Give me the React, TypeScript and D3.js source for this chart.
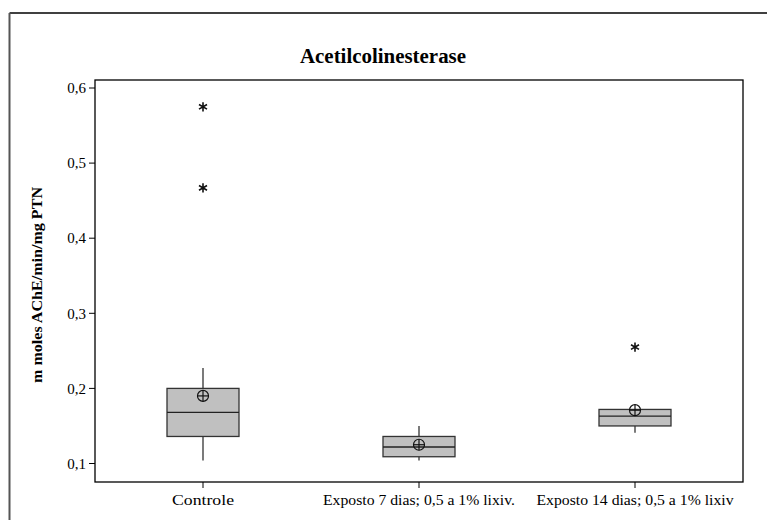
import React from "react";
import * as d3 from "d3";

const categories = ["Controle", "Exposto 7 dias; 0,5 a 1% lixiv.", "Exposto 14 dias; 0,5 a 1% lixiv"];
const q1 = [0.136, 0.109, 0.150];
const medians = [0.168, 0.122, 0.163];
const q3 = [0.200, 0.136, 0.172];
const whiskerLow = [0.104, 0.104, 0.141];
const whiskerHigh = [0.227, 0.150, 0.172];
const means = [0.190, 0.125, 0.171];
const outliers: number[][] = [[0.575, 0.467], [], [0.255]];
const yTicks = [0.1, 0.2, 0.3, 0.4, 0.5, 0.6];

const W = 767, H = 520;
const plotL = 95, plotR = 743, plotT = 80, plotB = 482;
const labelWidths = [62, 192, 197];

export default function App() {
  const x = d3.scaleBand<string>().domain(categories).range([plotL, plotR]).padding(0);
  const y = d3.scaleLinear().domain([0.1, 0.6]).range([463.5, 88]);
  const bw = x.bandwidth() / 3;
  const star = d3.symbol().type(d3.symbolAsterisk).size(60)();
  const fmt = (v: number) => v.toFixed(1).replace(".", ",");
  const serif = "'Liberation Serif', 'Times New Roman', serif";

  return (
    <svg width={W} height={H} style={{ position: "absolute", left: 0, top: 0, background: "#fff" }} fontFamily={serif}>
      <rect x={0} y={0} width={W} height={H} fill="#fff" />
      {/* outer frame */}
      <line x1={9.5} y1={13} x2={W} y2={13} stroke="#000" strokeWidth={1.5} />
      <line x1={9.5} y1={13} x2={9.5} y2={H} stroke="#555" strokeWidth={2} />
      <text x={383} y={63} textAnchor="middle" fontSize={20} fontWeight="bold" textLength={166} lengthAdjust="spacingAndGlyphs">
        Acetilcolinesterase
      </text>
      {/* plot area */}
      <rect x={plotL} y={plotT} width={plotR - plotL} height={plotB - plotT} fill="none" stroke="#000" strokeWidth={1.3} />
      {/* y axis */}
      {yTicks.map((t) => (
        <g key={t}>
          <line x1={plotL - 6} x2={plotL} y1={y(t)} y2={y(t)} stroke="#000" strokeWidth={1} />
          <text x={plotL - 9} y={y(t)} dy="0.35em" textAnchor="end" fontSize={15}>{fmt(t)}</text>
        </g>
      ))}
      <text transform={`translate(37,${(plotT + plotB) / 2 + 4}) rotate(-90)`} textAnchor="middle" fontSize={15} fontWeight="bold" dy="0.35em" textLength={196} lengthAdjust="spacingAndGlyphs">
        m moles AChE/min/mg PTN
      </text>
      {/* x axis */}
      {categories.map((c, i) => {
        const cx = (x(c) as number) + x.bandwidth() / 2;
        return (
          <g key={c}>
            <line x1={cx} x2={cx} y1={plotB} y2={plotB + 6} stroke="#000" strokeWidth={1} />
            <text x={cx} y={505} textAnchor="middle" fontSize={15} textLength={labelWidths[i]} lengthAdjust="spacingAndGlyphs">{c}</text>
          </g>
        );
      })}
      {/* boxes */}
      {categories.map((c, i) => {
        const cx = (x(c) as number) + x.bandwidth() / 2;
        return (
          <g key={c}>
            <line x1={cx} x2={cx} y1={y(q3[i])} y2={y(whiskerHigh[i])} stroke="#333" strokeWidth={1.3} />
            <line x1={cx} x2={cx} y1={y(q1[i])} y2={y(whiskerLow[i])} stroke="#333" strokeWidth={1.3} />
            <rect x={cx - bw / 2} y={y(q3[i])} width={bw} height={y(q1[i]) - y(q3[i])} fill="#c0c0c0" stroke="#333" strokeWidth={1.3} />
            <line x1={cx - bw / 2} x2={cx + bw / 2} y1={y(medians[i])} y2={y(medians[i])} stroke="#222" strokeWidth={1.3} />
            <g transform={`translate(${cx},${y(means[i])})`} stroke="#111" strokeWidth={1.2} fill="none">
              <circle r={5.5} />
              <line x1={-5.5} x2={5.5} y1={0} y2={0} />
              <line x1={0} x2={0} y1={-5.5} y2={5.5} />
            </g>
            {outliers[i].map((o, j) => (
              <path key={j} d={star as string} transform={`translate(${cx},${y(o)})`} fill="none" stroke="#111" strokeWidth={1.6} />
            ))}
          </g>
        );
      })}
    </svg>
  );
}
